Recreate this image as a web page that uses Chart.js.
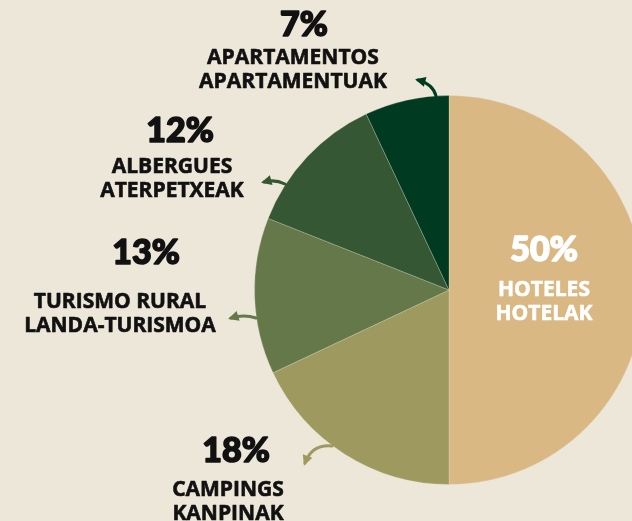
<!DOCTYPE html>
<html>
<head>
<meta charset="utf-8">
<script src="https://cdn.jsdelivr.net/npm/chart.js@4"></script>
<style>
  html, body { margin: 0; padding: 0; background: #ede7d9; overflow: hidden; }
  #wrap { position: relative; width: 700px; height: 521px; }
</style>
</head>
<body>
<div id="wrap"><canvas id="pie" width="700" height="521"></canvas></div>
<script>
const categories = ["HOTELES", "CAMPINGS", "TURISMO RURAL", "ALBERGUES", "APARTAMENTOS"]
const categoriesEu = ["HOTELAK", "KANPINAK", "LANDA-TURISMOA", "ATERPETXEAK", "APARTAMENTUAK"]
const shares = [50, 18, 13, 12, 7]
const sliceColors = ["#d9b883", "#9e9a5f", "#65784a", "#365733", "#003b21"]

// where each label block sits (percent line, then two name lines) and its arrow
const labelSpots = [
    { x: 544, y: 250, name: 290, color: "#ffffff" },
    { x: 228, y: 451, name: 490, pctX: 236, color: "#111111", arrow: [[332, 446], [312, 444], [305, 463]] },
    { x: 120, y: 253, name: 302, pctX: 146, color: "#111111", arrow: [[256, 318], [244, 314], [231, 318]] },
    { x: 172, y: 131, name: 167, pctX: 180, color: "#111111", arrow: [[285, 184], [275, 179], [264, 182]] },
    { x: 293, y: 25, name: 58, pctX: 304, color: "#111111", arrow: [[436, 96], [433, 84], [418, 80]] }
]

function drawArrow(ctx, pts, color) {
    const [a, c, b] = pts
    ctx.save()
    ctx.strokeStyle = color
    ctx.fillStyle = color
    ctx.lineWidth = 3
    ctx.lineCap = "round"
    ctx.beginPath()
    ctx.moveTo(a[0], a[1])
    ctx.quadraticCurveTo(c[0], c[1], b[0], b[1])
    ctx.stroke()
    const ang = Math.atan2(b[1] - c[1], b[0] - c[0])
    const len = 9
    ctx.beginPath()
    ctx.moveTo(b[0] + Math.cos(ang) * 3, b[1] + Math.sin(ang) * 3)
    ctx.lineTo(b[0] - Math.cos(ang - 0.6) * len, b[1] - Math.sin(ang - 0.6) * len)
    ctx.lineTo(b[0] - Math.cos(ang + 0.6) * len, b[1] - Math.sin(ang + 0.6) * len)
    ctx.closePath()
    ctx.fill()
    ctx.restore()
}

function heavyText(ctx, txt, x, y, w) {
    ctx.lineWidth = w
    ctx.lineJoin = "round"
    ctx.strokeText(txt, x, y)
    ctx.fillText(txt, x, y)
}

const labelPlugin = {
    id: "labels",
    afterDraw(chart) {
        const ctx = chart.ctx
        ctx.save()
        ctx.textAlign = "center"
        ctx.textBaseline = "middle"
        labelSpots.forEach((s, i) => {
            ctx.fillStyle = s.color
            ctx.strokeStyle = s.color
            ctx.font = "900 34px Lato, 'Open Sans', sans-serif"
            heavyText(ctx, shares[i] + "%", s.pctX || s.x, s.y, 1.6)
            ctx.font = "bold 21px 'Open Sans', sans-serif"
            heavyText(ctx, categories[i], s.x, s.name, 0.6)
            heavyText(ctx, categoriesEu[i], s.x, s.name + 24, 0.6)
            if (s.arrow) drawArrow(ctx, s.arrow, sliceColors[i])
        })
        ctx.restore()
    }
}

new Chart("pie", {
    type: "pie",
    data: {
        labels: categories,
        datasets: [{
            data: shares,
            backgroundColor: sliceColors,
            borderColor: "rgba(237,231,217,0.25)",
            borderWidth: 1
        }]
    },
    options: {
        responsive: false,
        animation: false,
        layout: { padding: { left: 254, right: 56, top: 95, bottom: 36 } },
        plugins: {
            legend: { display: false },
            tooltip: { enabled: false }
        }
    },
    plugins: [labelPlugin]
});
</script>
</body>
</html>
